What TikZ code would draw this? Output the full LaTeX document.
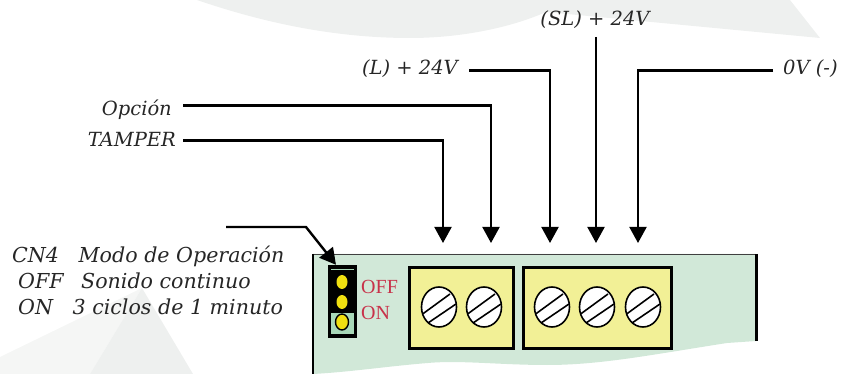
\documentclass[tikz,border=0pt]{standalone}
\usepackage{fontspec}
\setmainfont{DejaVu Serif}
\newfontfamily\redfont{Liberation Serif}
\usetikzlibrary{arrows.meta,shapes.geometric}
\definecolor{wm}{HTML}{EEF0EF}
\definecolor{wmlight}{HTML}{F5F6F5}
\definecolor{board}{HTML}{D1E8D8}
\definecolor{blockfill}{HTML}{F2F096}
\definecolor{pinbox}{HTML}{A8D8B8}
\definecolor{pinyellow}{HTML}{F0E010}
\definecolor{redtxt}{HTML}{C8324A}
\tikzset{
  lab/.style={inner sep=0pt,font=\fontsize{19.5}{22}\selectfont\itshape,text=black!85},
  modelab/.style={inner sep=0pt,anchor=west,font=\fontsize{20.6}{23}\selectfont\itshape,text=black!85},
  wirelabel/.style={lab,anchor=east},
  hwire/.style={line width=3pt},
  vwire/.style={line width=2pt,-{Triangle[length=16pt,width=17pt]}},
  tblock/.style={draw=black,line width=3pt,fill=blockfill},
  screw/.style={draw=black,line width=1.6pt,fill=white,ellipse,inner sep=0pt,minimum width=35pt,minimum height=40pt},
  slot/.style={line width=1.6pt},
  pinlab/.style={inner sep=0pt,anchor=west,text=redtxt,font=\redfont\fontsize{20}{22}\selectfont}
}
\begin{document}
\begin{tikzpicture}[x=1pt,y=-1pt]
\useasboundingbox (0,0) rectangle (852,374);
% watermark
\fill[wm] (197,0) .. controls (270,25) and (340,38) .. (410,38) .. controls (460,38) and (510,28) .. (546,12) -- (820,38) -- (790,0) -- cycle;
\fill[wmlight] (0,357) -- (142,288) -- (90,374) -- (0,374) -- cycle;
\fill[wm] (142,288) -- (193,374) -- (90,374) -- cycle;
% board
\fill[board] (313,254) -- (756,254) -- (756,341) -- (727,343) .. controls (650,355) and (600,365) .. (547,365) .. controls (500,365) and (460,360) .. (428,363) .. controls (390,366) and (350,372) .. (313,374) -- cycle;
\draw[line width=.8pt,draw=black!75] (313,254) -- (756,254);
\draw[line width=2.4pt] (313,254) -- (313,374);
\draw[line width=3pt] (756,254) -- (756,341);
% jumper
\node[draw=none,fill=black,inner sep=0pt,minimum width=29pt,minimum height=73pt] (jumper) at (342.5,301.5) {};
\fill[pinbox] (331,313) rectangle (354,334);
\draw[pinbox,line width=1pt] (331,270) -- (354,270);
\fill[pinyellow] (342,282) ellipse (5.5 and 7);
\fill[pinyellow] (342,302) ellipse (5.5 and 7);
\draw[fill=pinyellow,line width=1.4pt] (342,322) ellipse (6.5 and 8);
\node[pinlab] (off) at (361,287) {OFF};
\node[pinlab] (on) at (361,313) {ON};
% terminal blocks
\node[tblock,inner sep=0pt,minimum width=104pt,minimum height=81pt] (blockA) at (461.5,308) {};
\node[tblock,inner sep=0pt,minimum width=148pt,minimum height=81pt] (blockB) at (597.5,308) {};
\foreach \n/\x in {s1/439,s2/484,s3/552,s4/597,s5/643}{
  \node[screw] (\n) at (\x,307) {};
  \draw[slot] ([shift={(-16,6.7)}]\n.center) -- ([shift={(11,-13)}]\n.center);
  \draw[slot] ([shift={(-11,16)}]\n.center) -- ([shift={(17,-3)}]\n.center);
}
% labels
\node[wirelabel] (tamper) at (176,139) {TAMPER};
\node[wirelabel] (opcion) at (172,110) {Opción};
\node[wirelabel] (L) at (458,69) {(L) + 24V};
\node[lab] (SL) at (595,20) {(SL) + 24V};
\node[lab,anchor=west] (zero) at (783,69) {0V (-)};
\node[modelab] (cn4) at (12,256) {CN4\hspace{.95em}Modo de Operación};
\node[modelab] (cnoff) at (18,281) {OFF\hspace{.85em}Sonido continuo};
\node[modelab] (cnon) at (18,307) {ON\hspace{.95em}3 ciclos de 1 minuto};
% connector ends
\coordinate (t1) at (443,243);
\coordinate (t2) at (491,243);
\coordinate (t3) at (550,243);
\coordinate (t4) at (596,243);
\coordinate (t5) at (638,243);
\coordinate (c1) at (443,141);
\coordinate (c2) at (491,106);
\coordinate (c3) at (550,71);
\coordinate (c5) at (638,71);
\coordinate (a1) at (183,141);
\coordinate (a2) at (183,106);
\coordinate (a3) at (469,71);
\coordinate (a4) at (596,37);
\coordinate (a5) at (773,71);
\draw[hwire] (a1) -- ([xshift=1pt]c1);
\draw[hwire] (a2) -- ([xshift=1pt]c2);
\draw[hwire] (a3) -- ([xshift=1pt]c3);
\draw[hwire] (a5) -- ([xshift=-1pt]c5);
\draw[vwire] ([yshift=-1.5pt]c1) -- (t1);
\draw[vwire] ([yshift=-1.5pt]c2) -- (t2);
\draw[vwire] ([yshift=-1.5pt]c3) -- (t3);
\draw[vwire] (a4) -- (t4);
\draw[vwire] ([yshift=-1.5pt]c5) -- (t5);
% CN4 pointer
\coordinate (p0) at (226,227);
\coordinate (p1) at (306,227);
\draw[line width=2.4pt,-{Triangle[length=16pt,width=17pt]}] (p0) -- (p1) -- ([xshift=-6.5pt]jumper.north);
\end{tikzpicture}
\end{document}
